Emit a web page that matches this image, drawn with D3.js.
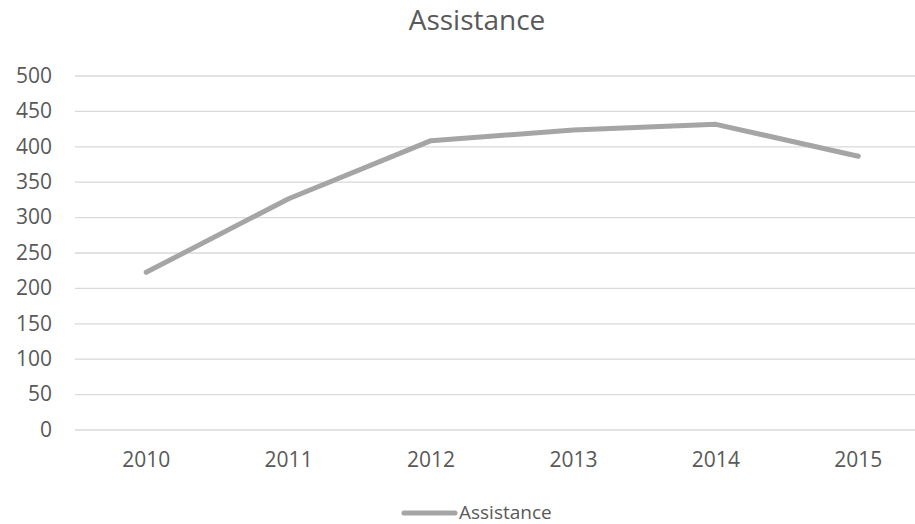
<!DOCTYPE html>
<html>
<head>
<meta charset="utf-8">
<script src="https://cdn.jsdelivr.net/npm/d3@7"></script>
<style>
  body { margin: 0; background: #fff; }
  svg { font-family: "Open Sans", sans-serif; }
</style>
</head>
<body>
<div id="chart"></div>
<script>
var years = ["2010", "2011", "2012", "2013", "2014", "2015"];
var assistance = [222, 326, 408, 423, 431, 386];
var yTicks = [0, 50, 100, 150, 200, 250, 300, 350, 400, 450, 500];
var seriesName = "Assistance";

var W = 915, H = 524;
var plotLeft = 75, plotRight = 929.5, plotTop = 75.5, plotBottom = 429.5;

var svg = d3.select("#chart").append("svg")
    .attr("width", W)
    .attr("height", H);

var x = d3.scaleBand()
    .domain(years)
    .range([plotLeft, plotRight])
    .padding(0);

var y = d3.scaleLinear()
    .domain([0, 500])
    .range([plotBottom, plotTop]);

// y axis + gridlines
var yAxis = svg.append("g")
    .attr("transform", "translate(" + plotLeft + ",0)")
    .call(d3.axisLeft(y).tickValues(yTicks).tickSize(-(plotRight - plotLeft)).tickPadding(23));
yAxis.select(".domain").remove();
yAxis.selectAll(".tick line").attr("stroke", "#d9d9d9").attr("stroke-width", 1.3);
yAxis.selectAll(".tick text")
    .attr("fill", "#595959")
    .style("font-size", "21px")
    .style("font-family", "'Open Sans', sans-serif");

// x axis
var xAxis = svg.append("g")
    .attr("transform", "translate(0," + plotBottom + ")")
    .call(d3.axisBottom(x).tickSize(0).tickPadding(23));
xAxis.select(".domain").remove();
xAxis.selectAll(".tick text")
    .attr("fill", "#595959")
    .style("font-size", "21px")
    .style("font-family", "'Open Sans', sans-serif");

// line
var data = years.map(function(d, i) { return {year: d, value: assistance[i]}; });
var line = d3.line()
    .x(function(d) { return x(d.year) + x.bandwidth() / 2; })
    .y(function(d) { return y(d.value); });

svg.append("path")
    .datum(data)
    .attr("d", line)
    .attr("fill", "none")
    .attr("stroke", "#a5a5a5")
    .attr("stroke-width", 5)
    .attr("stroke-linecap", "round")
    .attr("stroke-linejoin", "round");

// title
svg.append("text")
    .attr("x", 477)
    .attr("y", 30)
    .attr("text-anchor", "middle")
    .attr("fill", "#595959")
    .style("font-size", "28px")
    .text(seriesName);

// legend
svg.append("line")
    .attr("x1", 404).attr("x2", 455)
    .attr("y1", 513).attr("y2", 513)
    .attr("stroke", "#a5a5a5")
    .attr("stroke-width", 5)
    .attr("stroke-linecap", "round");
svg.append("text")
    .attr("x", 459)
    .attr("y", 519)
    .attr("fill", "#595959")
    .style("font-size", "19px")
    .text(seriesName);
</script>
</body>
</html>
